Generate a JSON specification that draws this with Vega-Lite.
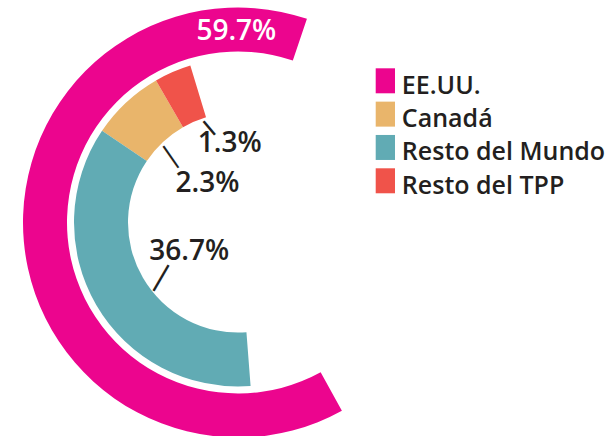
{
  "$schema": "https://vega.github.io/schema/vega-lite/v6.json",
  "width": 476,
  "height": 445,
  "padding": 0,
  "autosize": {"type": "pad"},
  "background": "white",
  "config": {"view": {"stroke": null}},
  "data": {
    "values": [
      {"pais": "EE.UU.", "valor": 0.597},
      {"pais": "Canadá", "valor": 0.023},
      {"pais": "Resto del Mundo", "valor": 0.367},
      {"pais": "Resto del TPP", "valor": 0.013}
    ]
  },
  "resolve": {"scale": {"theta": "independent"}},
  "layer": [
    {
      "transform": [{"filter": "datum.pais === 'EE.UU.'"}],
      "mark": {"type": "arc", "radius": 215, "radius2": 171},
      "encoding": {
        "theta": {"field": "valor", "type": "quantitative", "stack": true, "scale": {"domain": [0, 0.597], "range": [2.63719, 6.60956], "nice": false}},
        "color": {
          "field": "pais", "type": "nominal",
          "scale": {"domain": ["EE.UU.", "Canadá", "Resto del Mundo", "Resto del TPP"], "range": ["#EC058E", "#E9B56B", "#61ABB4", "#F0534A"]},
          "legend": {"title": null, "orient": "none", "legendX": 372.85, "legendY": 73.3, "symbolType": "M-0.772,-1.4H0.772V0.6H-0.772Z", "symbolSize": 625, "symbolStrokeWidth": 0, "labelFont": "Open Sans", "labelFontSize": 25, "labelFontWeight": 600, "labelColor": "#231F20", "labelOffset": 4, "rowPadding": 2.33, "padding": 0, "labelLimit": 400}
        }
      }
    },
    {
      "transform": [{"filter": "datum.pais === 'EE.UU.'"}],
      "mark": {"type": "text", "radius": 182.5, "thetaOffset": 1.6506, "font": "Open Sans", "fontSize": 28, "fontWeight": 600, "fill": "#FFFFFF", "align": "center", "baseline": "alphabetic"},
      "encoding": {
        "theta": {"field": "valor", "type": "quantitative", "stack": true, "scale": {"domain": [0, 0.597], "range": [2.63719, 6.60956], "nice": false}},
        "text": {"field": "valor", "type": "quantitative", "format": ".1%"}
      }
    },
    {
      "transform": [{"filter": "datum.pais !== 'EE.UU.'"}],
      "mark": {"type": "arc", "radius": 164, "radius2": 110},
      "encoding": {
        "theta": {"field": "valor", "type": "quantitative", "stack": true, "scale": {"domain": [0, 0.367, 0.39, 0.403], "range": [3.0648, 5.3058, 5.75959, 5.98823], "nice": false}},
        "order": {"field": "valor", "sort": "descending"},
        "color": {
          "field": "pais", "type": "nominal",
          "scale": {"domain": ["EE.UU.", "Canadá", "Resto del Mundo", "Resto del TPP"], "range": ["#EC058E", "#E9B56B", "#61ABB4", "#F0534A"]},
          "legend": {"title": null, "orient": "none", "legendX": 372.85, "legendY": 73.3, "symbolType": "M-0.772,-1.4H0.772V0.6H-0.772Z", "symbolSize": 625, "symbolStrokeWidth": 0, "labelFont": "Open Sans", "labelFontSize": 25, "labelFontWeight": 600, "labelColor": "#231F20", "labelOffset": 4, "rowPadding": 2.33, "padding": 0, "labelLimit": 400}
        }
      }
    },
    {
      "transform": [{"filter": "datum.pais !== 'EE.UU.'"}],
      "mark": {"type": "text", "radius": 61.5, "thetaOffset": -0.1281, "font": "Open Sans", "fontSize": 28, "fontWeight": 600, "fill": "#231F20", "align": "center", "baseline": "alphabetic"},
      "encoding": {
        "theta": {"field": "valor", "type": "quantitative", "stack": true, "scale": {"domain": [0, 0.367, 0.39, 0.403], "range": [3.0648, 5.3058, 5.75959, 5.98823], "nice": false}},
        "order": {"field": "valor", "sort": "descending"},
        "detail": {"field": "pais"},
        "text": {"condition": {"test": "datum.pais === 'Resto del Mundo'", "field": "valor", "type": "quantitative", "format": ".1%"}, "value": ""}
      }
    },
    {
      "transform": [{"filter": "datum.pais !== 'EE.UU.'"}],
      "mark": {"type": "text", "radius": 43.3, "thetaOffset": -0.0297, "font": "Open Sans", "fontSize": 28, "fontWeight": 600, "fill": "#231F20", "align": "center", "baseline": "alphabetic"},
      "encoding": {
        "theta": {"field": "valor", "type": "quantitative", "stack": true, "scale": {"domain": [0, 0.367, 0.39, 0.403], "range": [3.0648, 5.3058, 5.75959, 5.98823], "nice": false}},
        "order": {"field": "valor", "sort": "descending"},
        "detail": {"field": "pais"},
        "text": {"condition": {"test": "datum.pais === 'Canadá'", "field": "valor", "type": "quantitative", "format": ".1%"}, "value": ""}
      }
    },
    {
      "transform": [{"filter": "datum.pais !== 'EE.UU.'"}],
      "mark": {"type": "text", "radius": 71.3, "thetaOffset": 0.2925, "font": "Open Sans", "fontSize": 28, "fontWeight": 600, "fill": "#231F20", "align": "center", "baseline": "alphabetic"},
      "encoding": {
        "theta": {"field": "valor", "type": "quantitative", "stack": true, "scale": {"domain": [0, 0.367, 0.39, 0.403], "range": [3.0648, 5.3058, 5.75959, 5.98823], "nice": false}},
        "order": {"field": "valor", "sort": "descending"},
        "detail": {"field": "pais"},
        "text": {"condition": {"test": "datum.pais === 'Resto del TPP'", "field": "valor", "type": "quantitative", "format": ".1%"}, "value": ""}
      }
    },
    {
      "transform": [{"filter": "datum.pais !== 'EE.UU.'"}],
      "mark": {"type": "text", "radius": 95.4, "thetaOffset": -0.0873, "font": "DejaVu Sans", "fontSize": 32.9, "angle": -59.7, "fill": "#231F20", "align": "center", "baseline": "middle"},
      "encoding": {
        "theta": {"field": "valor", "type": "quantitative", "stack": true, "scale": {"domain": [0, 0.367, 0.39, 0.403], "range": [3.0648, 5.3058, 5.75959, 5.98823], "nice": false}},
        "order": {"field": "valor", "sort": "descending"},
        "detail": {"field": "pais"},
        "text": {"condition": {"test": "datum.pais === 'Resto del Mundo'", "value": "—"}, "value": ""}
      }
    },
    {
      "transform": [{"filter": "datum.pais !== 'EE.UU.'"}],
      "mark": {"type": "text", "radius": 93.7, "thetaOffset": -0.0356, "font": "DejaVu Sans", "fontSize": 29.2, "angle": 55.2, "fill": "#231F20", "align": "center", "baseline": "middle"},
      "encoding": {
        "theta": {"field": "valor", "type": "quantitative", "stack": true, "scale": {"domain": [0, 0.367, 0.39, 0.403], "range": [3.0648, 5.3058, 5.75959, 5.98823], "nice": false}},
        "order": {"field": "valor", "sort": "descending"},
        "detail": {"field": "pais"},
        "text": {"condition": {"test": "datum.pais === 'Canadá'", "value": "—"}, "value": ""}
      }
    },
    {
      "transform": [{"filter": "datum.pais !== 'EE.UU.'"}],
      "mark": {"type": "text", "radius": 99.1, "thetaOffset": 0.1197, "font": "DejaVu Sans", "fontSize": 19.7, "fontWeight": "bold", "angle": 49.7, "fill": "#231F20", "align": "center", "baseline": "middle"},
      "encoding": {
        "theta": {"field": "valor", "type": "quantitative", "stack": true, "scale": {"domain": [0, 0.367, 0.39, 0.403], "range": [3.0648, 5.3058, 5.75959, 5.98823], "nice": false}},
        "order": {"field": "valor", "sort": "descending"},
        "detail": {"field": "pais"},
        "text": {"condition": {"test": "datum.pais === 'Resto del TPP'", "value": "—"}, "value": ""}
      }
    }
  ]
}
